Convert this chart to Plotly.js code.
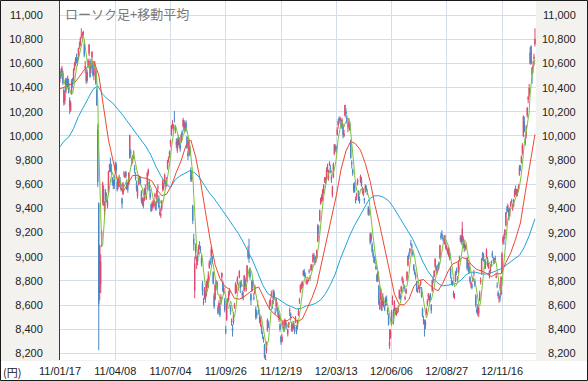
<!DOCTYPE html>
<html><head><meta charset="utf-8">
<script src="https://cdn.plot.ly/plotly-3.0.1.min.js"></script>
<style>html,body{margin:0;padding:0;background:#fff;}#chart{width:588px;height:381px;}</style>
</head><body><div id="chart"></div>
<script>
// Daily candles, 2011-01-17 .. 2013-01-11 (trading days)
const openP = [
10480,10530,10500,10520,10380,10290,10360,10470,10420,10440,
10300,10210,10350,10450,10460,10560,10600,10650,10640,10640,
10750,10760,10830,10840,10840,10760,10560,10520,10460,10580,
10680,10620,10560,10650,10600,10500,10560,10540,10380,10050,
9440,8700,8770,9140,9450,9560,9380,9470,9510,9420,
9530,9740,9740,9720,9650,9620,9640,9710,9760,9620,
9580,9640,9630,9570,9480,9520,9690,9660,9700,9610,
9590,9600,9820,9870,9790,9800,9860,9740,9660,9610,
9500,9610,9650,9640,9540,9440,9460,9470,9560,9480,
9560,9690,9620,9530,9430,9400,9430,9420,9500,9450,
9450,9570,9480,9370,9340,9400,9560,9570,9610,9620,
9590,9730,9800,9840,9930,10010,10090,10060,10140,10060,
9950,9880,9990,9920,9920,9950,10030,10080,10120,10070,
10110,9990,9860,9880,9900,9720,9640,9420,9150,8720,
9090,8960,9010,9030,9110,9060,8990,8780,8620,8670,
8710,8680,8770,8750,8910,8960,9010,9000,8870,8680,
8650,8780,8790,8580,8580,8590,8620,8830,8790,8700,
8640,8400,8480,8640,8640,8720,8580,8470,8410,8460,
8580,8700,8730,8780,8740,8830,8780,8790,8700,8670,
8720,8810,8730,8800,9000,9020,8900,8690,8720,8790,
8660,8700,8570,8540,8600,8560,8510,8430,8420,8350,
8310,8270,8140,8220,8390,8450,8590,8610,8680,8620,
8620,8700,8540,8590,8580,8540,8480,8440,8340,8300,
8440,8420,8430,8460,8430,8360,8420,8550,8530,8440,
8420,8410,8420,8460,8420,8420,8520,8630,8710,8760,
8760,8850,8880,8850,8790,8780,8800,8880,8830,8890,
8910,8960,9010,8990,8960,8990,9130,9240,9300,9440,
9500,9470,9540,9630,9640,9640,9750,9650,9760,9740,
9660,9510,9660,9850,9910,9900,10010,10090,10150,10130,
10130,10090,10080,10000,10170,10200,10150,10080,10080,10100,
9950,9780,9720,9600,9600,9480,9500,9600,9540,9480,
9620,9640,9540,9510,9480,9540,9570,9530,9410,9370,
9190,9140,9100,9030,9000,8980,8920,8850,8800,8760,
8570,8650,8640,8600,8640,8580,8600,8650,8560,8510,
8260,8330,8440,8620,8560,8560,8570,8520,8560,8560,
8660,8680,8710,8810,8780,8760,8650,8700,8810,8930,
9020,9040,9110,9090,9040,8930,8880,8830,8790,8710,
8740,8750,8770,8740,8570,8470,8470,8430,8530,8610,
8660,8640,8690,8600,8720,8820,8840,8920,8920,8870,
8890,8950,8990,9170,9190,9160,9150,9110,9100,9060,
9060,9010,9030,8900,8810,8790,8700,8670,8800,8890,
8820,8870,8990,9140,9160,9130,9150,9080,9090,9080,
8990,8920,8920,8830,8770,8770,8800,8860,8800,8680,
8560,8590,8530,8640,8790,8860,9030,8990,8960,8930,
9000,8990,8910,8880,8880,8960,9030,8980,8960,8990,
8830,8760,8700,8650,8680,8690,8870,9120,9170,9180,
9260,9390,9380,9380,9340,9420,9470,9400,9420,9500,
9570,9520,9540,9560,9680,9740,9780,9860,10000,10120,
9980,10000,10170,10300,10330,10600,10740,10560,10560,10640,
10760];
const highP = [
10540,10560,10580,10540,10400,10370,10480,10480,10500,10470,
10320,10290,10470,10480,10560,10610,10650,10680,10650,10730,
10780,10820,10890,10860,10870,10790,10620,10560,10550,10640,
10760,10640,10600,10700,10620,10560,10620,10560,10400,10100,
9450,9100,9020,9220,9620,9590,9460,9560,9530,9470,
9710,9770,9820,9770,9660,9640,9680,9790,9780,9640,
9660,9680,9660,9600,9490,9620,9710,9700,9710,9630,
9620,9700,10010,9890,9820,9840,9880,9760,9700,9630,
9590,9680,9670,9660,9550,9490,9490,9570,9600,9520,
9700,9730,9640,9560,9440,9460,9470,9480,9530,9460,
9560,9600,9510,9420,9400,9470,9640,9610,9690,9630,
9660,9800,9830,9880,9970,10090,10130,10100,10207,10090,
9980,9980,10010,9990,9940,10020,10050,10150,10130,10110,
10130,10000,9880,9980,9920,9740,9700,9430,9190,9000,
9110,9010,9030,9100,9130,9090,9010,8800,8660,8750,
8720,8800,8820,8880,8970,8990,9080,9010,8880,8700,
8780,8810,8800,8600,8640,8620,8690,8870,8800,8760,
8660,8430,8620,8660,8720,8740,8600,8490,8440,8540,
8620,8790,8770,8840,8780,8890,8800,8810,8720,8710,
8850,8830,8770,8930,9090,9150,8910,8700,8810,8810,
8700,8770,8590,8560,8640,8580,8520,8500,8440,8380,
8340,8280,8190,8300,8490,8470,8640,8660,8720,8640,
8730,8720,8580,8660,8590,8560,8530,8450,8350,8360,
8470,8440,8490,8470,8450,8400,8460,8580,8540,8460,
8450,8470,8430,8510,8430,8480,8570,8660,8770,8790,
8800,8890,8900,8870,8820,8810,8830,8900,8850,8940,
8940,9030,9030,9000,9010,9060,9270,9260,9390,9490,
9520,9560,9600,9660,9660,9740,9770,9720,9790,9760,
9680,9590,9780,9930,9930,9920,10070,10140,10160,10160,
10140,10150,10090,10050,10255,10230,10170,10110,10140,10120,
9970,9800,9730,9610,9620,9500,9530,9650,9550,9500,
9680,9660,9580,9560,9490,9600,9590,9560,9420,9400,
9200,9200,9120,9060,9010,9000,8950,8860,8880,8770,
8650,8740,8670,8700,8660,8600,8670,8680,8580,8530,
8400,8400,8560,8680,8570,8640,8580,8580,8580,8600,
8730,8700,8760,8840,8820,8770,8680,8740,8880,9010,
9040,9070,9140,9110,9060,8940,8900,8870,8800,8740,
8770,8760,8810,8750,8580,8510,8480,8480,8580,8650,
8700,8680,8700,8610,8810,8840,8890,8990,8930,8900,
8940,8960,9100,9200,9220,9180,9160,9180,9120,9100,
9070,9080,9040,8920,8830,8800,8720,8700,8880,8910,
8840,8970,9010,9180,9180,9290,9170,9130,9100,9110,
9000,8960,8950,8840,8800,8780,8840,8890,8820,8690,
8580,8610,8590,8720,8830,8990,9040,9030,8980,8970,
9070,9000,8950,8890,8940,8970,9050,9000,8990,9010,
8870,8790,8720,8680,8700,8840,9040,9170,9190,9230,
9370,9420,9440,9400,9410,9460,9480,9440,9480,9560,
9590,9560,9560,9600,9760,9760,9840,9940,10170,10160,
10010,10090,10240,10330,10430,10734,10750,10570,10620,10680,
10890];
const lowP = [
10440,10470,10490,10420,10250,10260,10350,10390,10400,10350,
10180,10200,10340,10400,10450,10540,10580,10600,10580,10630,
10720,10740,10810,10800,10820,10650,10520,10430,10440,10560,
10660,10480,10520,10620,10490,10460,10520,10420,10250,9578,
8227,8639,8700,9080,9430,9420,9330,9450,9450,9400,
9510,9700,9700,9680,9590,9560,9560,9680,9690,9540,
9560,9610,9580,9540,9400,9510,9660,9650,9650,9550,
9530,9590,9810,9820,9750,9770,9810,9690,9630,9540,
9480,9590,9600,9590,9440,9420,9400,9460,9510,9470,
9550,9670,9540,9470,9370,9380,9410,9400,9480,9380,
9440,9550,9400,9340,9320,9380,9540,9550,9600,9560,
9580,9720,9780,9820,9910,10000,10060,10040,10110,10020,
9900,9860,9920,9900,9870,9940,9990,10070,10030,10040,
10030,9890,9800,9860,9830,9620,9620,9270,9050,8656,
8980,8900,8930,9020,9060,9030,8920,8680,8600,8650,
8620,8670,8740,8740,8900,8930,8990,8940,8770,8570,
8640,8750,8720,8520,8550,8500,8600,8800,8710,8690,
8540,8359,8470,8590,8630,8680,8520,8430,8340,8440,
8570,8690,8700,8770,8720,8820,8700,8750,8650,8640,
8710,8740,8710,8790,8980,8950,8810,8600,8710,8740,
8640,8690,8480,8490,8580,8520,8450,8420,8360,8320,
8290,8160,8135,8200,8380,8410,8560,8590,8660,8570,
8610,8650,8520,8580,8540,8500,8460,8380,8272,8290,
8420,8380,8420,8420,8400,8340,8410,8510,8470,8380,
8380,8400,8360,8450,8360,8400,8510,8610,8700,8730,
8740,8840,8830,8820,8770,8770,8790,8860,8800,8880,
8890,8950,8980,8930,8950,8980,9120,9190,9290,9430,
9450,9460,9520,9610,9600,9630,9700,9630,9750,9690,
9610,9490,9650,9840,9870,9860,10000,10060,10100,10120,
10060,10060,9980,9990,10160,10150,10100,10030,10060,10040,
9810,9730,9670,9530,9530,9440,9470,9590,9460,9440,
9610,9580,9520,9500,9440,9530,9540,9510,9340,9340,
9100,9120,9030,8990,8950,8940,8890,8790,8790,8600,
8560,8640,8550,8590,8580,8550,8590,8600,8520,8430,
8238,8320,8430,8600,8440,8550,8520,8510,8530,8540,
8650,8640,8700,8790,8760,8710,8640,8690,8800,8920,
8980,9020,9090,9050,9000,8880,8850,8810,8710,8700,
8730,8700,8760,8660,8500,8440,8340,8400,8520,8590,
8640,8620,8630,8530,8710,8780,8830,8910,8870,8850,
8880,8900,8980,9140,9150,9130,9110,9100,9060,9050,
9020,9000,8970,8820,8770,8760,8660,8650,8790,8850,
8790,8860,8960,9120,9100,9120,9070,9040,9050,9060,
8890,8880,8860,8780,8740,8730,8790,8840,8750,8580,
8530,8510,8500,8630,8770,8850,8970,8960,8900,8900,
8990,8920,8900,8820,8860,8920,8990,8950,8940,8950,
8820,8740,8660,8619,8630,8680,8860,9100,9100,9150,
9250,9360,9370,9300,9330,9410,9440,9380,9410,9490,
9510,9500,9500,9540,9670,9710,9770,9840,9990,10030,
9920,9980,10150,10270,10320,10590,10590,10433,10520,10580,
10740];
const closeP = [
10502,10518,10557,10437,10274,10345,10464,10401,10479,10360,
10237,10274,10457,10431,10543,10592,10636,10617,10605,10725,
10746,10808,10836,10842,10857,10665,10579,10452,10526,10624,
10754,10492,10586,10693,10505,10525,10589,10434,10254,9620,
8605,9093,8962,9206,9608,9449,9435,9536,9478,9459,
9708,9755,9708,9718,9615,9584,9590,9768,9719,9555,
9641,9653,9591,9556,9441,9606,9685,9682,9671,9559,
9558,9691,10004,9859,9794,9818,9864,9716,9648,9558,
9567,9662,9620,9607,9460,9477,9422,9562,9521,9504,
9694,9719,9555,9492,9380,9442,9449,9467,9514,9391,
9547,9574,9411,9351,9354,9459,9629,9597,9678,9578,
9648,9797,9816,9868,9965,10082,10100,10071,10137,10069,
9925,9963,9936,9974,9889,10005,10011,10132,10050,10097,
10047,9901,9833,9965,9844,9637,9659,9299,9097,8944,
9038,8981,8963,9086,9107,9057,8943,8719,8628,8733,
8639,8772,8797,8851,8953,8955,9060,8950,8784,8590,
8763,8793,8737,8535,8616,8518,8668,8864,8721,8741,
8560,8374,8609,8616,8701,8700,8545,8456,8382,8522,
8605,8773,8738,8823,8747,8879,8741,8772,8682,8678,
8843,8762,8748,8926,9050,8988,8835,8640,8801,8767,
8655,8755,8500,8514,8603,8541,8463,8479,8374,8348,
8314,8165,8160,8287,8477,8434,8597,8643,8695,8575,
8722,8664,8536,8653,8552,8519,8518,8401,8296,8336,
8459,8395,8479,8440,8423,8398,8455,8560,8488,8390,
8422,8448,8385,8500,8378,8466,8550,8639,8766,8765,
8785,8883,8849,8841,8793,8802,8809,8876,8831,8929,
8917,9015,9002,8947,8999,9052,9260,9238,9384,9485,
9463,9554,9595,9647,9633,9722,9723,9707,9777,9698,
9637,9576,9768,9929,9889,9899,10050,10123,10129,10141,
10086,10127,10011,10018,10255,10182,10114,10083,10109,10050,
9819,9767,9688,9546,9538,9458,9524,9637,9470,9464,
9667,9588,9561,9542,9467,9590,9561,9520,9350,9380,
9119,9181,9045,9009,8953,8973,8900,8801,8876,8611,
8633,8729,8556,8680,8593,8563,8657,8633,8542,8440,
8295,8383,8542,8639,8459,8624,8536,8568,8568,8569,
8721,8655,8752,8825,8798,8734,8663,8730,8874,9006,
9003,9066,9104,9079,9020,8896,8857,8851,8720,8724,
8755,8729,8795,8670,8508,8488,8443,8462,8566,8635,
8695,8666,8659,8555,8804,8803,8881,8978,8891,8885,
8929,8929,9093,9162,9171,9156,9131,9178,9070,9085,
9033,9069,8983,8839,8783,8775,8679,8680,8871,8869,
8807,8959,8995,9159,9123,9232,9086,9110,9069,9091,
8906,8949,8870,8797,8786,8746,8824,8863,8769,8596,
8546,8534,8577,8701,8806,8982,9002,9010,8936,8954,
9055,8933,8929,8841,8928,8946,9007,8975,8972,8974,
8837,8757,8676,8661,8664,8830,9024,9153,9142,9222,
9366,9389,9423,9308,9400,9446,9458,9432,9468,9545,
9527,9533,9525,9581,9742,9737,9828,9923,10160,10039,
9940,10080,10230,10322,10395,10688,10599,10508,10578,10652,
10801];
// 25-day moving average, read every 5 trading days from day 0
const ma25 = [
10389,10405,10420,10440,10490,10548,10580,10615,10503,10223,
9967,9785,9604,9537,9611,9673,9672,9654,9648,9625,
9554,9505,9518,9591,9699,9795,9923,9965,9825,9621,
9376,9136,8935,8821,8756,8729,8656,8649,8670,8706,
8734,8750,8671,8583,8534,8503,8467,8473,8505,8462,
8486,8572,8661,8769,8955,9141,9316,9504,9725,9875,
9956,9934,9882,9771,9624,9424,9257,9071,8864,8693,
8605,8602,8649,8753,8803,8812,8774,8742,8718,8782,
8874,8940,8957,8993,8983,8929,8895,8883,8863,8835,
8860,8859,8952,9032,9146,9280,9532,9765,10012];
// 75-day moving average: day 0, then days 4, 9, 14 ... 489, then last day
const ma75 = [
9910,
9955,9990,10060,10160,10240,10310,10385,10415,10345,10305,
10275,10230,10180,10125,10072,10023,9968,9908,9837,9746,
9671,9603,9572,9639,9670,9694,9712,9695,9655,9591,
9529,9482,9428,9370,9311,9250,9193,9122,9040,8965,
8868,8769,8699,8670,8657,8631,8603,8587,8569,8573,
8594,8601,8616,8644,8696,8770,8858,8977,9078,9177,
9261,9332,9406,9476,9504,9505,9491,9463,9409,9342,
9277,9213,9145,9059,8965,8888,8832,8787,8759,8763,
8770,8779,8809,8852,8872,8872,8861,8856,8864,8883,
8897,8923,8956,8983,9012,9079,9173,9293,
9314];
const xTickDays = [0,57,114,171,228,285,342,399,456];
const xTickText = ['11/01/17','11/04/08','11/07/04','11/09/26','11/12/19','12/03/13','12/06/06','12/08/27','12/11/16'];
const yTicks = [8200,8400,8600,8800,9000,9200,9400,9600,9800,10000,10200,10400,10600,10800,11000];
const yTickText = ['8,200','8,400','8,600','8,800','9,000','9,200','9,400','9,600','9,800','10,000','10,200','10,400','10,600','10,800','11,000'];
const titleText = 'ローソク足+移動平均';
const unitText = '(円)';

const days = closeP.map((_, i) => i);
const ma5 = closeP.map((_, i) => {
  const w = closeP.slice(Math.max(0, i - 4), i + 1);
  return w.reduce((a, b) => a + b, 0) / w.length;
});
const ma25Days = ma25.map((_, k) => k * 5);
const ma75Days = ma75.map((_, k) => k === 0 ? 0 : (k === ma75.length - 1 ? days.length - 1 : k * 5 - 1));

// layout geometry (pixels)
const W = 588, H = 381, L = 60, R = 52, T = 1, B = 21;
const PW = W - L - R, PH = H - T - B;
const px = v => (v - L) / PW;
const py = v => (H - B - v) / PH;

const numFont = {family: 'Liberation Sans, Arial, sans-serif', size: 11, color: '#222'};
const rightLabels = yTicks.map((v, i) => ({
  xref: 'paper', yref: 'y', x: px(578), y: v, text: yTickText[i],
  showarrow: false, xanchor: 'right', yanchor: 'middle', font: numFont
}));

const traces = [
  {type: 'candlestick', x: days, open: openP, high: highP, low: lowP, close: closeP,
   increasing: {line: {color: '#e0486c', width: 1}, fillcolor: '#e0486c'},
   decreasing: {line: {color: '#4a86c6', width: 1}, fillcolor: '#4a86c6'},
   whiskerwidth: 0, hoverinfo: 'skip', showlegend: false},
  {type: 'scatter', mode: 'lines', x: ma75Days, y: ma75, line: {color: '#1ea4d8', width: 1}, hoverinfo: 'skip', showlegend: false},
  {type: 'scatter', mode: 'lines', x: ma25Days, y: ma25, line: {color: '#f0472c', width: 1}, hoverinfo: 'skip', showlegend: false},
  {type: 'scatter', mode: 'lines', x: days, y: ma5, line: {color: '#78c43a', width: 1}, hoverinfo: 'skip', showlegend: false}
];

const layout = {
  width: W, height: H,
  margin: {l: L, r: R, t: T, b: B, pad: 0},
  paper_bgcolor: '#f3f2ef', plot_bgcolor: '#ffffff',
  showlegend: false, hovermode: false,
  font: numFont,
  xaxis: {
    type: 'linear', range: [0, PW / ((502 - 60) / 456)],
    tickvals: xTickDays, ticktext: xTickText, ticks: '',
    showgrid: true, gridcolor: '#d5dcea', gridwidth: 1,
    zeroline: false, showline: false, ticklabelstandoff: 3,
    rangeslider: {visible: false}, fixedrange: true, tickfont: numFont
  },
  yaxis: {
    range: [8146, 11116], tickvals: yTicks, ticktext: yTickText, ticks: '',
    showgrid: true, gridcolor: '#d5dcea', gridwidth: 1,
    zeroline: false, showline: true, linecolor: '#3c3c3c', linewidth: 1,
    ticklabelstandoff: 14, fixedrange: true, tickfont: numFont
  },
  shapes: [
    {type: 'rect', xref: 'paper', yref: 'paper', x0: px(0), x1: px(W), y0: py(H), y1: py(361),
     fillcolor: '#ffffff', line: {width: 0}, layer: 'below'},
    {type: 'rect', xref: 'paper', yref: 'paper', x0: px(0.5), x1: px(W - 0.5), y0: py(H - 0.5), y1: py(0.5),
     fillcolor: 'rgba(0,0,0,0)', line: {color: '#1a1a1a', width: 1}, layer: 'above'}
  ],
  annotations: [
    {xref: 'paper', yref: 'paper', x: px(63), y: py(13), text: titleText, showarrow: false,
     xanchor: 'left', yanchor: 'middle', font: {family: 'Noto Sans CJK JP, sans-serif', size: 13, color: '#7a7a7a'}},
    {xref: 'paper', yref: 'paper', x: px(1), y: py(372), text: unitText, showarrow: false,
     xanchor: 'left', yanchor: 'middle', font: {family: 'Noto Sans CJK JP, sans-serif', size: 11, color: '#222'}}
  ].concat(rightLabels)
};

Plotly.newPlot('chart', traces, layout, {staticPlot: true, displayModeBar: false});
</script>
</body></html>
